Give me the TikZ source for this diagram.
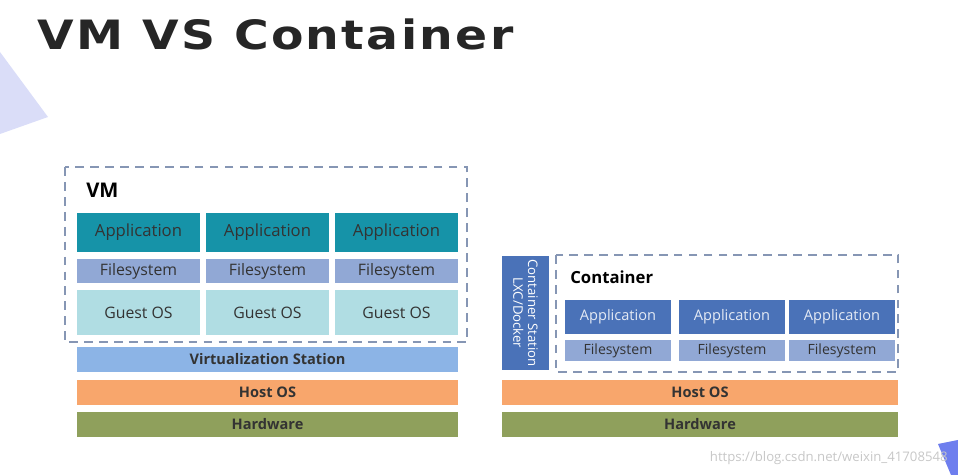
\documentclass[tikz,border=0pt]{standalone}
\usepackage{fontspec}
\setmainfont{Open Sans}
\newfontfamily\titlefont[LetterSpace=5]{DejaVu Sans Bold}
\usepackage{tikz}
\usetikzlibrary{positioning}
\usepackage{xcolor}
\definecolor{appTeal}{RGB}{22, 147, 168}
\definecolor{appBlue}{RGB}{74, 114, 184}
\definecolor{fsBlue}{RGB}{145, 168, 213}
\definecolor{guestCyan}{RGB}{176, 221, 227}
\definecolor{virtBlue}{RGB}{140, 180, 230}
\definecolor{hostOrange}{RGB}{248, 166, 108}
\definecolor{hwGreen}{RGB}{143, 160, 92}
\definecolor{dashGray}{RGB}{134, 150, 180}
\definecolor{triLav}{RGB}{218, 221, 248}
\definecolor{triBlue}{RGB}{110, 126, 238}

\tikzset{
  layer/.style={inner sep=0pt, text=black!80},
  app/.style={layer, fill=appTeal, minimum width=2.46cm, minimum height=0.78cm, font=\fontsize{9.5}{11}\selectfont},
  fsys/.style={layer, fill=fsBlue, minimum width=2.46cm, minimum height=0.48cm, font=\fontsize{9}{10}\selectfont},
  guest/.style={layer, fill=guestCyan, minimum width=2.46cm, minimum height=0.9cm, font=\fontsize{9}{10}\selectfont},
  base/.style={layer, minimum height=0.5cm, font=\fontsize{8.3}{9}\selectfont\bfseries},
  capp/.style={layer, fill=appBlue, text=white!85!appBlue, minimum width=2.14cm, minimum height=0.68cm, font=\fontsize{8.3}{9}\selectfont},
  cfsys/.style={layer, fill=fsBlue, minimum width=2.14cm, minimum height=0.42cm, font=\fontsize{8}{9}\selectfont},
  dashbox/.style={draw=dashGray, line width=1.1pt, dash pattern=on 5pt off 3.5pt}
}

\begin{document}
\begin{tikzpicture}[x=0.02cm, y=-0.02cm]
  \useasboundingbox (0,0) rectangle (958,475);

  % Corner decorations
  \fill[triLav] (0,52) -- (48,117) -- (0,134) -- cycle;
  \fill[triBlue] (938,444) -- (958,440) -- (958,475) -- (951,475) -- cycle;

  % Title
  \node[anchor=base west, inner sep=0pt, xscale=1.17, text=black!85] (title) at (37,50)
    {\titlefont\fontsize{23}{26}\selectfont VM VS Container};

  % VM side
  \draw[dashbox] (65,167) rectangle (467,342);
  \node[anchor=west, inner sep=0pt, font=\fontsize{11.5}{13}\selectfont\bfseries] (vmlabel) at (86,190) {VM};
  \foreach \i/\x in {1/138.5, 2/267.5, 3/396.5} {
    \node[app] (vmapp\i) at (\x,232.5) {Application};
    \node[fsys] (vmfs\i) at (\x,271) {Filesystem};
    \node[guest] (vmos\i) at (\x,312.5) {Guest OS};
  }
  \node[base, fill=virtBlue, minimum width=7.62cm] (virt) at (267.5,359.5) {Virtualization Station};
  \node[base, fill=hostOrange, minimum width=7.62cm] (vmhost) at (267.5,392.5) {Host OS};
  \node[base, fill=hwGreen, minimum width=7.62cm] (vmhw) at (267.5,424.5) {Hardware};

  % Container side
  \node[layer, fill=appBlue, minimum width=0.94cm, minimum height=2.28cm] (station) at (525.5,313) {};
  \node[rotate=-90, align=center, inner sep=0pt, text=white, font=\fontsize{7.5}{8.5}\selectfont] (stationtxt) at (station.center)
    {Container Station\\LXC/Docker};
  \draw[dashbox] (556,255) rectangle (898,372);
  \node[anchor=west, inner sep=0pt, font=\fontsize{9.5}{11}\selectfont\bfseries] (ctlabel) at (570,277) {Container};
  \foreach \i/\x in {1/618, 2/732, 3/842} {
    \node[capp] (ctapp\i) at (\x,317) {Application};
    \node[cfsys] (ctfs\i) at (\x,350.5) {Filesystem};
  }
  \node[base, fill=hostOrange, minimum width=7.92cm] (cthost) at (700,392.5) {Host OS};
  \node[base, fill=hwGreen, minimum width=7.92cm] (cthw) at (700,424.5) {Hardware};

  % Watermark
  \node[anchor=east, inner sep=0pt, text=black!22, font=\fontsize{7.5}{9}\selectfont] (mark) at (948,458)
    {https://blog.csdn.net/weixin\_41708548};
\end{tikzpicture}
\end{document}
